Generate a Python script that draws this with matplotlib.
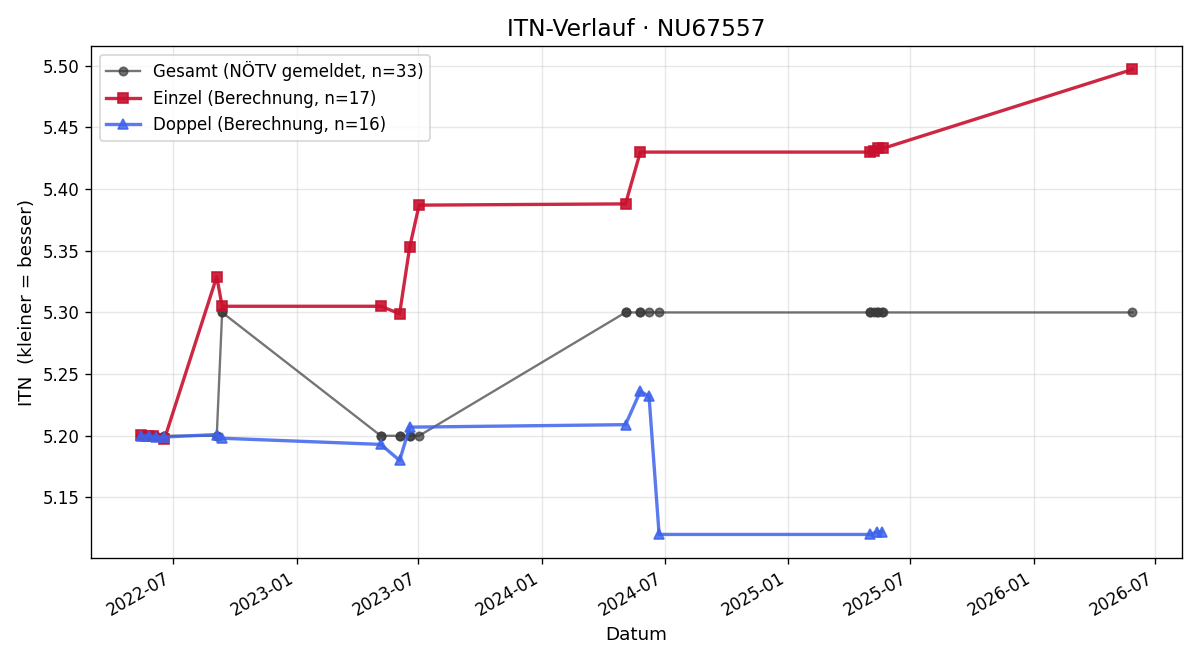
import matplotlib
matplotlib.use("Agg")
import matplotlib.pyplot as plt
import matplotlib.dates as mdates
import pandas as pd

einzel_dates = ["2022-05-14", "2022-05-24", "2022-06-01", "2022-06-18",
                "2022-09-04", "2022-09-12",
                "2023-05-06", "2023-06-03", "2023-06-18", "2023-07-02",
                "2024-05-04", "2024-05-26",
                "2025-05-03", "2025-05-09", "2025-05-15", "2025-05-22",
                "2026-05-28"]
einzel_vals = [5.201, 5.200, 5.200, 5.197,
               5.329, 5.305,
               5.305, 5.299, 5.353, 5.387,
               5.388, 5.430,
               5.430, 5.431, 5.433, 5.433,
               5.497]

doppel_dates = ["2022-05-14", "2022-05-26", "2022-06-06", "2022-06-18",
                "2022-09-04", "2022-09-12",
                "2023-05-06", "2023-06-03", "2023-06-18",
                "2024-05-04", "2024-05-26", "2024-06-08", "2024-06-23",
                "2025-05-03", "2025-05-13", "2025-05-20"]
doppel_vals = [5.200, 5.200, 5.199, 5.199,
               5.201, 5.198,
               5.193, 5.180, 5.207,
               5.209, 5.236, 5.232, 5.120,
               5.120, 5.122, 5.122]

gesamt_dates = ["2022-05-14", "2022-05-14", "2022-05-24", "2022-05-26", "2022-06-01",
                "2022-06-06", "2022-06-18", "2022-06-18",
                "2022-09-04", "2022-09-04", "2022-09-12", "2022-09-12",
                "2023-05-06", "2023-05-06", "2023-06-03", "2023-06-03",
                "2023-06-18", "2023-06-18", "2023-07-02",
                "2024-05-04", "2024-05-04", "2024-05-26", "2024-05-26",
                "2024-06-08", "2024-06-23",
                "2025-05-03", "2025-05-03", "2025-05-09", "2025-05-13",
                "2025-05-15", "2025-05-20", "2025-05-22",
                "2026-05-28"]
gesamt_vals = [5.20, 5.20, 5.20, 5.20, 5.20,
               5.20, 5.20, 5.20,
               5.20, 5.20, 5.30, 5.30,
               5.20, 5.20, 5.20, 5.20,
               5.20, 5.20, 5.20,
               5.30, 5.30, 5.30, 5.30,
               5.30, 5.30,
               5.30, 5.30, 5.30, 5.30,
               5.30, 5.30, 5.30,
               5.30]

fig, ax = plt.subplots(figsize=(10, 5.5), dpi=120)

ax.plot(pd.to_datetime(gesamt_dates), gesamt_vals, marker="o", color="#3a3a3a",
        alpha=0.7, linewidth=1.4, markersize=5, label="Gesamt (NÖTV gemeldet, n=33)", zorder=2)
ax.plot(pd.to_datetime(einzel_dates), einzel_vals, marker="s", color="#c8102e",
        alpha=0.9, linewidth=2, markersize=6, label="Einzel (Berechnung, n=17)", zorder=3)
ax.plot(pd.to_datetime(doppel_dates), doppel_vals, marker="^", color="#3d63ec",
        alpha=0.85, linewidth=2, markersize=6, label="Doppel (Berechnung, n=16)", zorder=4)

ax.set_title("ITN-Verlauf · NU67557", fontsize=14)
ax.set_xlabel("Datum", fontsize=11)
ax.set_ylabel("ITN  (kleiner = besser)", fontsize=11)
ax.grid(True, alpha=0.3)
ax.legend(loc="upper left", fontsize=10)
ax.xaxis.set_major_formatter(mdates.DateFormatter("%Y-%m"))
ax.xaxis.set_major_locator(mdates.MonthLocator(bymonth=[1, 7]))
ax.tick_params(labelsize=10)
fig.autofmt_xdate()
fig.subplots_adjust(left=0.076, right=0.985, top=0.93, bottom=0.155)
fig.savefig("out.png", dpi=120)
